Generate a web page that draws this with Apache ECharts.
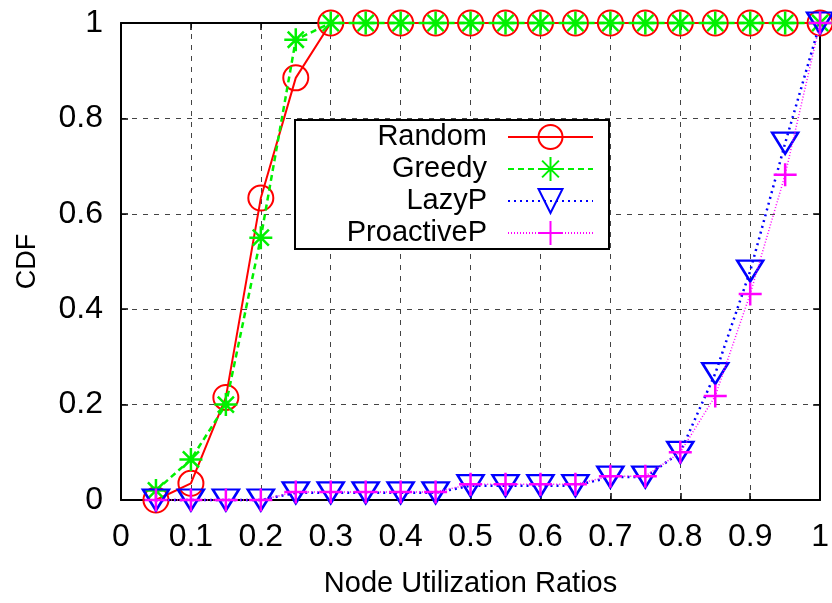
<!DOCTYPE html>
<html>
<head>
<meta charset="utf-8">
<script src="https://cdn.jsdelivr.net/npm/echarts@6/dist/echarts.min.js"></script>
<style>html,body{margin:0;padding:0;background:#fff;}#c{width:832px;height:603px;}</style>
</head>
<body>
<div id="c"></div>
<script>
var xValues = [0.05, 0.1, 0.15, 0.2, 0.25, 0.3, 0.35, 0.4, 0.45, 0.5, 0.55, 0.6, 0.65, 0.7, 0.75, 0.8, 0.85, 0.9, 0.95, 1.0];
var randomCdf = [0, 0.035, 0.215, 0.633, 0.885, 1, 1, 1, 1, 1, 1, 1, 1, 1, 1, 1, 1, 1, 1, 1];
var greedyCdf = [0.02, 0.085, 0.2, 0.55, 0.965, 1, 1, 1, 1, 1, 1, 1, 1, 1, 1, 1, 1, 1, 1, 1];
var lazyCdf = [0, 0, 0, 0, 0.015, 0.015, 0.015, 0.015, 0.015, 0.03, 0.03, 0.03, 0.03, 0.048, 0.048, 0.1, 0.265, 0.48, 0.748, 1];
var proactiveCdf = [0, 0, 0, 0, 0.017, 0.017, 0.017, 0.017, 0.017, 0.033, 0.033, 0.033, 0.033, 0.05, 0.05, 0.1, 0.218, 0.432, 0.682, 1];
var seriesNames = ['Random', 'Greedy', 'LazyP', 'ProactiveP'];

function pairs(ys) { return xValues.map(function (x, i) { return [x, ys[i]]; }); }

var FONT = 'Liberation Sans';
var chart = echarts.init(document.getElementById('c'), null, {renderer: 'canvas'});
var gridLine = {show: true, lineStyle: {color: '#444', width: 1, type: [5, 6]}};
var frameLine = {show: true, onZero: false, lineStyle: {color: '#000', width: 2}};
var tickIn = {show: true, inside: true, length: 7, lineStyle: {color: '#000', width: 1.5}};

chart.setOption({
  animation: false,
  backgroundColor: '#fff',
  grid: {left: 121, right: 10, top: 23, bottom: 96},
  xAxis: [{
    type: 'value', min: 0, max: 1, interval: 0.1, position: 'bottom',
    name: 'Node Utilization Ratios', nameLocation: 'middle', nameGap: 69,
    nameTextStyle: {fontFamily: FONT, fontSize: 29, color: '#000'},
    axisLine: frameLine, axisTick: tickIn, splitLine: gridLine,
    axisLabel: {fontFamily: FONT, fontSize: 32, color: '#000', margin: 21}
  }, {
    type: 'value', min: 0, max: 1, interval: 0.1, position: 'top',
    axisLine: frameLine, axisTick: tickIn, splitLine: {show: false}, axisLabel: {show: false}
  }],
  yAxis: [{
    type: 'value', min: 0, max: 1, interval: 0.2, position: 'left',
    name: 'CDF', nameLocation: 'middle', nameGap: 80,
    nameTextStyle: {fontFamily: FONT, fontSize: 27, color: '#000'},
    axisLine: frameLine, axisTick: tickIn, splitLine: gridLine,
    axisLabel: {fontFamily: FONT, fontSize: 32, color: '#000', margin: 18}
  }, {
    type: 'value', min: 0, max: 1, interval: 0.2, position: 'right',
    axisLine: frameLine, axisTick: tickIn, splitLine: {show: false}, axisLabel: {show: false}
  }],
  legend: {
    orient: 'vertical', left: 295, top: 120, align: 'right',
    backgroundColor: '#fff', borderColor: '#000', borderWidth: 2,
    padding: [2, 15, 1, 22], itemWidth: 85, itemHeight: 30, itemGap: 2,
    textStyle: {fontFamily: FONT, fontSize: 29, color: '#000', width: 170, align: 'right', padding: [0, 16, 0, 0], lineHeight: 30},
    data: seriesNames
  },
  series: [{
    name: seriesNames[0], type: 'line', clip: false, data: pairs(randomCdf),
    symbol: 'circle', symbolSize: 25,
    itemStyle: {color: 'rgba(0,0,0,0)', borderColor: '#ff0000', borderWidth: 2},
    lineStyle: {color: '#ff0000', width: 2, type: 'solid'}, z: 4
  }, {
    name: seriesNames[1], type: 'line', clip: false, data: pairs(greedyCdf),
    symbol: 'path://M0,10 L20,10 M10,0 L10,20 M3,3 L17,17 M17,3 L3,17', symbolSize: 23,
    itemStyle: {color: '#00f000', borderColor: '#00f000', borderWidth: 2.5},
    lineStyle: {color: '#00f000', width: 2.5, type: [6, 4]}, z: 5
  }, {
    name: seriesNames[2], type: 'line', clip: false, data: pairs(lazyCdf),
    symbol: 'path://M0,0 L20,0 L10,16 Z', symbolSize: [26, 21],
    itemStyle: {color: 'rgba(0,0,0,0)', borderColor: '#0000ff', borderWidth: 2.5},
    lineStyle: {color: '#0000ff', width: 2.5, type: [2, 4]}, z: 6
  }, {
    name: seriesNames[3], type: 'line', clip: false, data: pairs(proactiveCdf),
    symbol: 'path://M0,10 L20,10 M10,0 L10,20', symbolSize: 23,
    itemStyle: {color: '#ff00ff', borderColor: '#ff00ff', borderWidth: 2.5},
    lineStyle: {color: '#ff00ff', width: 1.5, type: [1, 2]}, z: 7
  }]
});
</script>
</body>
</html>
